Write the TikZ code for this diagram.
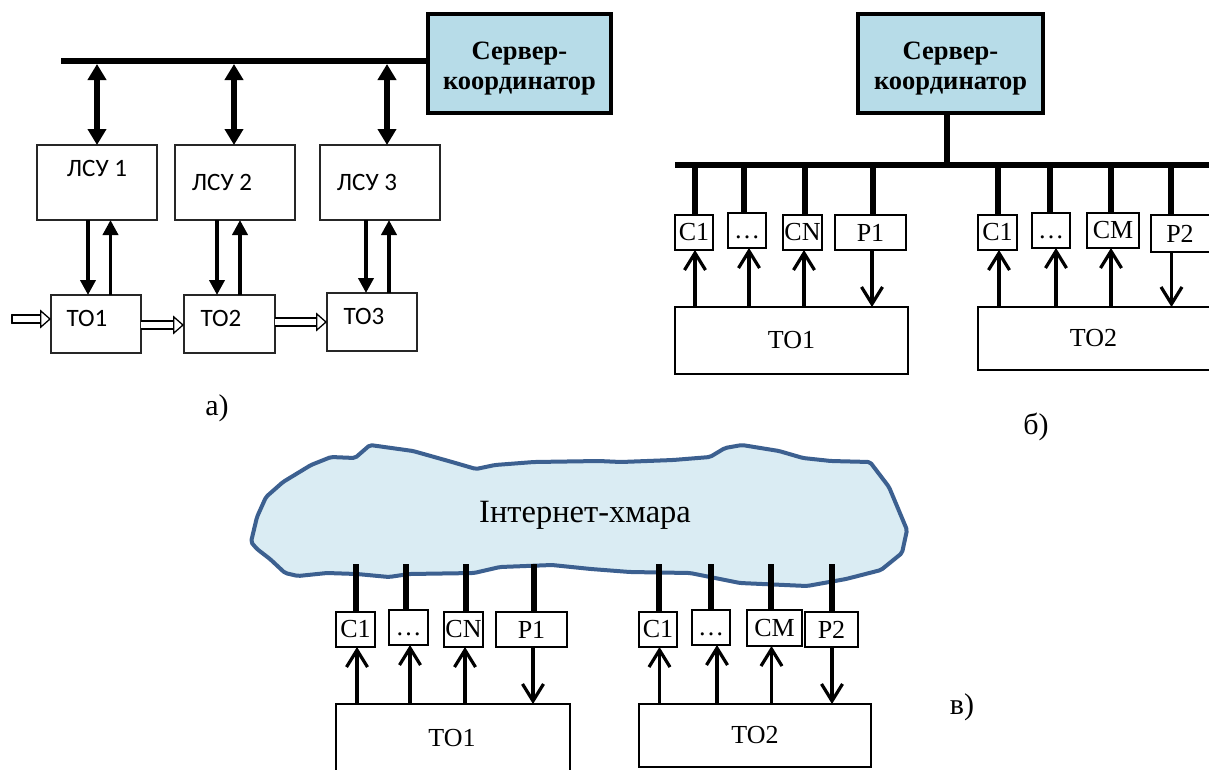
\documentclass[tikz,border=0pt]{standalone}
\usepackage{fontspec}
\setmainfont{Liberation Serif}
\newfontfamily\calfam{Carlito}
\usetikzlibrary{arrows.meta,calc}
\definecolor{srv}{HTML}{B7DCE8}
\definecolor{cloudfill}{HTML}{DAECF3}
\definecolor{cloudline}{HTML}{3C6090}
\newcommand{\fs}[1]{\fontsize{#1}{#1}\selectfont}
\newcommand{\dotsl}{\vphantom{C}…}
% box by corners: style, name, x1, y1, x2, y2, text
\newcommand{\bx}[7][plain]{%
  \pgfmathsetmacro{\cx}{(#3+#5)/2}\pgfmathsetmacro{\cy}{(#4+#6)/2}%
  \pgfmathsetmacro{\ww}{#5-#3}\pgfmathsetmacro{\hh}{#6-#4}%
  \node[#1,minimum width=\ww pt,minimum height=\hh pt] (#2) at (\cx,\cy) {#7};}
% vertical connector at abscissa x between two anchors
\newcommand{\vc}[4]{\draw[#1] (#2,0 |- #3) -- (#2,0 |- #4);}
\tikzset{
  plain/.style={draw=black,line width=1.2pt,fill=white,inner sep=0pt,outer sep=0pt,font=\fs{26}},
  sansbox/.style={plain,line width=1.3pt,draw=black!85},
  server/.style={draw=black,line width=4.5pt,fill=srv,inner sep=0pt,outer sep=0pt,align=center,font=\fs{26.5}\bfseries},
  busbar/.style={fill=black,inner sep=0pt,outer sep=0pt},
  stick/.style={line width=5.5pt},
  bidir/.style={line width=6pt,{Triangle[length=16pt,width=18pt]}-{Triangle[length=16pt,width=18pt]}},
  thickarrow/.style={line width=3.8pt,-{Triangle[length=15pt,width=15pt]}},
  thinarrow/.style={line width=3.2pt,-{Straight Barb[length=17pt,width=21pt,line width=3.2pt]}},
  hollow/.style={line width=1.3pt,double=white,double distance=6.5pt,-{Triangle[open,fill=white,length=11pt,width=19pt]}},
  sanslabel/.style={inner sep=0pt,font=\calfam\fs{25}},
  serlabel/.style={inner sep=0pt,font=\fs{30}},
}
\begin{document}
\begin{tikzpicture}[x=1pt,y=-1pt]
\useasboundingbox (0,0) rectangle (1209,769);
\clip (0,0) rectangle (1209,769);
\fill[white] (0,0) rectangle (1209,769);

% ---------- a) ----------
\bx[busbar]{busa}{61}{58}{430}{64}{}
\bx[server]{srva}{428}{14}{611}{113}{\rule{0pt}{28pt}Сервер-\\[4pt]координатор}
\bx[sansbox]{lsua}{37}{145}{157}{220}{}
\bx[sansbox]{lsub}{175}{145}{295}{220}{}
\bx[sansbox]{lsuc}{320}{145}{440}{220}{}
\bx[sansbox]{toa}{51}{295}{141}{353}{}
\bx[sansbox]{tob}{184}{295}{275}{353}{}
\bx[sansbox]{toc}{327}{293}{417}{351}{}
\node[sanslabel] (lla) at (97,168) {ЛСУ 1};
\node[sanslabel] (llb) at (222,182) {ЛСУ 2};
\node[sanslabel] (llc) at (367,182) {ЛСУ 3};
\node[sanslabel] (lta) at (87,318) {ТО1};
\node[sanslabel] (ltb) at (221,318) {ТО2};
\node[sanslabel] (ltc) at (364,316) {ТО3};
\vc{bidir}{97}{busa.south}{lsua.north}
\vc{bidir}{234}{busa.south}{lsub.north}
\vc{bidir}{387}{busa.south}{lsuc.north}
\vc{thickarrow}{88}{lsua.south}{toa.north}
\vc{thickarrow}{110.5}{toa.north}{lsua.south}
\vc{thickarrow}{217}{lsub.south}{tob.north}
\vc{thickarrow}{240}{tob.north}{lsub.south}
\vc{thickarrow}{366}{lsuc.south}{toc.north}
\vc{thickarrow}{389}{toc.north}{lsuc.south}
\coordinate (ina) at (12,319);
\draw[hollow] (ina) -- (ina -| toa.west);
\draw[line width=1.3pt,line cap=round] ($(ina)+(0,-4.5)$) -- ($(ina)+(0,4.5)$);
\draw[hollow] (toa.east |- 0,325) -- (tob.west |- 0,325);
\draw[hollow] (tob.east |- 0,322) -- (toc.west |- 0,322);
\node[serlabel] (capa) at (217,408) {а)};

% ---------- б) ----------
\bx[server]{srvb}{858}{14}{1043}{113}{\rule{0pt}{28pt}Сервер-\\[4pt]координатор}
\bx[busbar]{busb}{675}{162}{1215}{168}{}
\vc{stick}{947}{srvb.south}{busb.north}
\bx{bca}{675}{215}{713}{250}{C1}
\bx{bcb}{728}{213}{766}{248}{\dotsl}
\bx{bcc}{783}{215}{822}{250}{CN}
\bx{bpa}{835}{215}{906}{250}{P1}
\bx{bcd}{978}{215}{1017}{250}{C1}
\bx{bce}{1032}{213}{1070}{248}{\dotsl}
\bx{bcf}{1087}{213}{1139}{248}{CM}
\bx{bpb}{1151}{215}{1212}{252}{\hspace*{-3pt}P2}
\bx{bta}{675}{307}{908}{374}{ТО1}
\bx{btb}{978}{307}{1212}{370}{\hspace*{-3pt}ТО2}
\vc{stick}{695}{busb.south}{bca.north}
\vc{stick}{744}{busb.south}{bcb.north}
\vc{stick}{805}{busb.south}{bcc.north}
\vc{stick}{873}{busb.south}{bpa.north}
\vc{stick}{998}{busb.south}{bcd.north}
\vc{stick}{1050}{busb.south}{bce.north}
\vc{stick}{1111}{busb.south}{bcf.north}
\vc{stick}{1171}{busb.south}{bpb.north}
\vc{thinarrow}{695}{bta.north}{bca.south}
\vc{thinarrow}{749}{bta.north}{bcb.south}
\vc{thinarrow}{804}{bta.north}{bcc.south}
\vc{thinarrow}{872}{bpa.south}{bta.north}
\vc{thinarrow}{999}{btb.north}{bcd.south}
\vc{thinarrow}{1056}{btb.north}{bce.south}
\vc{thinarrow}{1111}{btb.north}{bcf.south}
\vc{thinarrow}{1171.5}{bpb.south}{btb.north}
\node[serlabel] (capb) at (1036,427) {б)};

% ---------- в) ----------
\draw[line width=4pt,draw=cloudline,fill=cloudfill,line join=round,rounded corners=2pt]
 (251,542) -- (257,549) -- (270,559) -- (285,573) -- (298,576) -- (327,573) -- (357,574)
 -- (389,577) -- (409,574) -- (474,573) -- (500,567) -- (552,565) -- (591,569) -- (630,572)
 -- (690,573) -- (740,583) -- (807,586) -- (846,579) -- (881,570) -- (902,553) -- (907,530)
 -- (889,487) -- (870,462) -- (831,461) -- (803,458) -- (779,451) -- (742,445) -- (725,448)
 -- (710,457) -- (673,460) -- (621,462) -- (599,461) -- (534,462) -- (495,465) -- (476,469)
 -- (452,462) -- (413,451) -- (370,445) -- (355,458) -- (331,457) -- (311,465) -- (283,482)
 -- (266,497) -- (257,517) -- cycle;
\coordinate (cloudb) at (0,564);
\node[inner sep=0pt,font=\fs{32.5}] (cloudtxt) at (585,515) {Інтернет-хмара};
\bx{cca}{336}{612}{375}{647}{C1}
\bx{ccb}{389}{610}{428}{645}{\dotsl}
\bx{ccc}{444}{612}{483}{647}{CN}
\bx{cpa}{496}{612}{567}{647}{P1}
\bx{ccd}{639}{612}{677}{647}{C1}
\bx{cce}{692}{610}{730}{645}{\dotsl}
\bx{ccf}{747}{610}{802}{646}{CM}
\bx{cpb}{805}{612}{858}{647}{P2}
\bx{cta}{336}{704}{570}{780}{}
\bx{ctb}{639}{704}{871}{767}{\raisebox{-2pt}{ТО2}}
\node[inner sep=0pt,font=\fs{26}] (ctal) at (452,738) {ТО1};
\vc{stick}{356}{cloudb}{cca.north}
\vc{stick}{406}{cloudb}{ccb.north}
\vc{stick}{466}{cloudb}{ccc.north}
\vc{stick}{534}{cloudb}{cpa.north}
\vc{stick}{659}{cloudb}{ccd.north}
\vc{stick}{711}{cloudb}{cce.north}
\vc{stick}{771}{cloudb}{ccf.north}
\vc{stick}{832}{cloudb}{cpb.north}
\vc{thinarrow}{357}{cta.north}{cca.south}
\vc{thinarrow}{410}{cta.north}{ccb.south}
\vc{thinarrow}{465}{cta.north}{ccc.south}
\vc{thinarrow}{533}{cpa.south}{cta.north}
\vc{thinarrow}{659.5}{ctb.north}{ccd.south}
\vc{thinarrow}{717}{ctb.north}{cce.south}
\vc{thinarrow}{771.5}{ctb.north}{ccf.south}
\vc{thinarrow}{832}{cpb.south}{ctb.north}
\node[serlabel] (capc) at (962,707) {в)};
\end{tikzpicture}
\end{document}
